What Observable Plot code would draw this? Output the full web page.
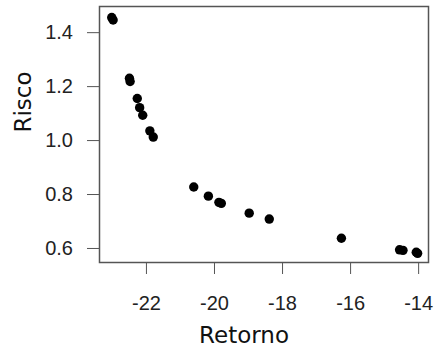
<!DOCTYPE html>
<html>
<head>
<meta charset="utf-8">
<script src="https://cdn.jsdelivr.net/npm/d3@7"></script>
<script src="https://cdn.jsdelivr.net/npm/@observablehq/plot@0.6"></script>
<style>
  html, body { margin: 0; padding: 0; background: #fff; }
  svg { font-family: "Liberation Sans", Arial, sans-serif; }
</style>
</head>
<body>
<div id="chart"></div>
<script>
const retorno = [-23.02, -22.98, -22.50, -22.48, -22.27, -22.20, -22.11, -21.90, -21.80,
  -20.61, -20.18, -19.87, -19.80, -18.98, -18.39, -16.27, -14.56, -14.46, -14.07, -14.03];
const risco = [1.456, 1.447, 1.231, 1.219, 1.156, 1.122, 1.094, 1.036, 1.013,
  0.828, 0.794, 0.771, 0.767, 0.731, 0.709, 0.638, 0.595, 0.593, 0.586, 0.582];
const xTicks = [-22, -20, -18, -16, -14];
const yTicks = [0.6, 0.8, 1.0, 1.2, 1.4];
const xLabel = "Retorno";
const yLabel = "Risco";

const data = retorno.map((r, i) => ({retorno: r, risco: risco[i]}));

const chart = Plot.plot({
  width: 434,
  height: 349,
  marginLeft: 99,
  marginRight: 6,
  marginTop: 6,
  marginBottom: 87,
  style: {fontFamily: '"Liberation Sans", Arial, sans-serif', background: "#fff"},
  x: {domain: [-23.38, -13.71]},
  y: {domain: [0.548, 1.497]},
  marks: [
    Plot.frame({stroke: "#555", strokeWidth: 1.5}),
    Plot.axisX({ticks: xTicks, tickSize: 12, tickPadding: 21, fontSize: 20, stroke: "#555",
      color: "#222", tickFormat: d => String(d), label: null}),
    Plot.axisY({ticks: yTicks, tickSize: 12, tickPadding: 14.5, fontSize: 20, stroke: "#555",
      color: "#222", tickFormat: d3.format(".1f"), label: null}),
    Plot.text([xLabel], {frameAnchor: "bottom", dx: -20, dy: 80, fontSize: 23,
      fontFamily: '"DejaVu Sans", sans-serif', fill: "#111"}),
    Plot.text([yLabel], {frameAnchor: "left", dx: -76, dy: -2, rotate: -90, fontSize: 23,
      fontFamily: '"DejaVu Sans", sans-serif', fill: "#111"}),
    Plot.dot(data, {x: "retorno", y: "risco", r: 4.7, fill: "#000", stroke: "none"})
  ]
});
document.getElementById("chart").appendChild(chart);
</script>
</body>
</html>
